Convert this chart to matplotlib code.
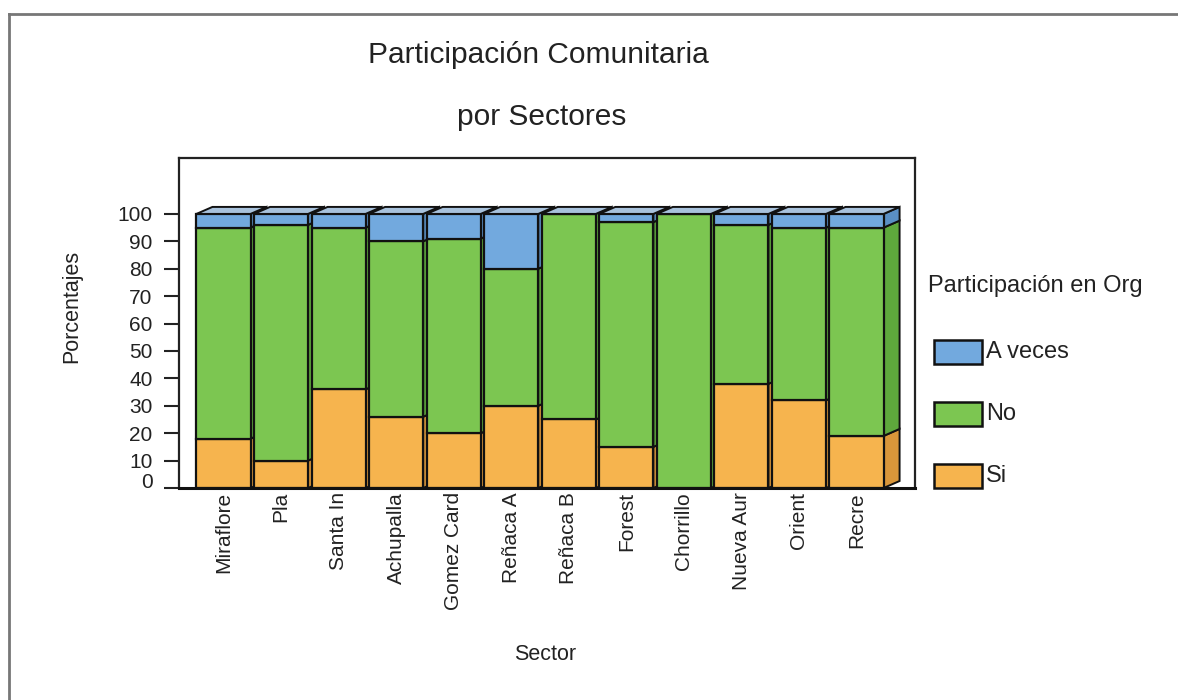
import numpy as np
import matplotlib.pyplot as plt
from matplotlib.patches import Polygon, Rectangle
from matplotlib.lines import Line2D

plt.rcParams['font.family'] = ['Liberation Sans', 'DejaVu Sans']

# Participación comunitaria por sector (porcentajes)
sectores = ["Miraflore", "Pla", "Santa In", "Achupalla", "Gomez Card", "Reñaca A",
            "Reñaca B", "Forest", "Chorrillo", "Nueva Aur", "Orient", "Recre"]
si = [18, 10, 36, 26, 20, 30, 25, 15, 0, 38, 32, 19]
no = [77, 86, 59, 64, 71, 50, 75, 82, 100, 58, 63, 76]
a_veces = [5, 4, 5, 10, 9, 20, 0, 3, 0, 4, 5, 5]

series = [("Si", si), ("No", no), ("A veces", a_veces)]
front = {"Si": "#F6B44E", "No": "#7CC651", "A veces": "#72A9DE"}
side = {"Si": "#D9963A", "No": "#5EA83C", "A veces": "#5A8FC4"}
top_col = "#A8C2DC"
txt = "#222222"

W, H = 1178, 700
fig = plt.figure(figsize=(W / 100, H / 100), dpi=100)

def fx(px):
    return px / W

def fy(py):
    return 1 - py / H

# plot area
left, right, top, bottom = 179, 915, 158, 488
ax = fig.add_axes([fx(left), fy(bottom), fx(right - left), (bottom - top) / H])
ax.set_xlim(-0.773, 12.016)
ax.set_ylim(0, 120.4)

x = np.arange(len(sectores))
w = 0.94
dx, dy = 0.278, 2.55
ink = "#111111"

base = np.zeros(len(sectores))
fronts = []
for name, vals in series:
    vals = np.array(vals, dtype=float)
    bars = ax.bar(x, vals, w, bottom=base, color=front[name], edgecolor=ink, linewidth=1.6)
    fronts.append((bars, base.copy(), vals))
    base = base + vals

# 3D side and top faces, drawn left to right so each front hides the previous side
for i in range(len(sectores)):
    z = 2 + i * 0.01
    x1 = x[i] + w / 2
    x0 = x[i] - w / 2
    for (bars, b, vals), (name, _) in zip(fronts, series):
        bars[i].set_zorder(z + 0.005)
        if vals[i] <= 0:
            continue
        y0, y1 = b[i], b[i] + vals[i]
        ax.add_patch(Polygon([(x1, y0), (x1 + dx, y0 + dy), (x1 + dx, y1 + dy), (x1, y1)],
                             closed=True, facecolor=side[name], edgecolor=ink,
                             linewidth=1.4, zorder=z))
    t = base[i]
    ax.add_patch(Polygon([(x0, t), (x0 + dx, t + dy), (x1 + dx, t + dy), (x1, t)],
                         closed=True, facecolor=top_col, edgecolor=ink,
                         linewidth=1.4, zorder=z + 0.006))

ax.set_yticks(range(0, 101, 10))
ax.set_xticks(x)
ax.set_xticklabels(sectores, rotation=90, fontsize=15, color=txt)
ax.tick_params(axis="x", length=0, pad=3)
ax.tick_params(axis="y", direction="out", length=11, width=1.5, labelsize=15,
               colors=txt, pad=8)
ylabels = ax.get_yticklabels()
ylabels[0].set_verticalalignment("baseline")

for s in ["left", "top", "right"]:
    ax.spines[s].set_linewidth(1.6)
    ax.spines[s].set_color(txt)
ax.spines["bottom"].set_linewidth(2.2)
ax.spines["bottom"].set_color(ink)

ax.set_ylabel("Porcentajes", fontsize=15.5, color=txt)
ax.yaxis.set_label_coords((82 - left) / (right - left), (bottom - 306) / (bottom - top))

fig.text(fx(545), fy(655), "Sector", ha="center", va="center", fontsize=15.5, color=txt)
fig.text(fx(538), fy(55), "Participación Comunitaria", ha="center", va="center",
         fontsize=21.5, color=txt)
fig.text(fx(542), fy(117), "por Sectores", ha="center", va="center",
         fontsize=21.5, color=txt)

# legend
fig.text(fx(928), fy(286), "Participación en Org", ha="left", va="center",
         fontsize=17, color=txt)
for name, yc in [("A veces", 352), ("No", 414), ("Si", 476)]:
    fig.add_artist(Rectangle((fx(934), fy(yc + 12)), fx(48), 24 / H,
                             facecolor=front[name], edgecolor=ink, linewidth=1.8,
                             transform=fig.transFigure))
    fig.text(fx(986), fy(yc), name, ha="left", va="center", fontsize=17, color=txt)

# outer frame
fig.add_artist(Line2D([fx(9), fx(9)], [fy(14), 0], color="#777777", linewidth=2,
                      transform=fig.transFigure))
fig.add_artist(Line2D([fx(9), 1], [fy(14), fy(14)], color="#777777", linewidth=2,
                      transform=fig.transFigure))

fig.savefig("out.png", dpi=100)
